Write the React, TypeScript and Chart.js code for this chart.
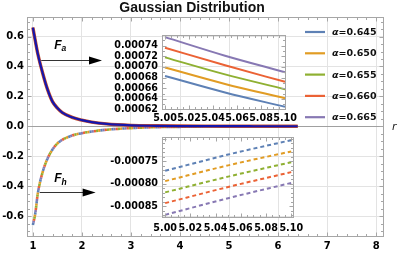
import React, { useEffect, useRef } from "react";
import { Chart, registerables } from "chart.js";
Chart.register(...registerables);

// ---------- data ----------
const TITLE = "Gaussian Distribution";
const AXIS_LABEL = "r";
const rValues = [1.0, 1.05, 1.1, 1.2, 1.3, 1.4, 1.5, 1.6, 1.8, 2.0, 2.2, 2.5, 3.0, 3.5, 4.0, 4.5, 5.0, 5.5, 6.0, 6.4];
const faValues = [0.66, 0.57, 0.485, 0.355, 0.245, 0.165, 0.122, 0.092, 0.06, 0.041, 0.028, 0.016, 0.0065, 0.0032, 0.0017, 0.001, 0.0007, 0.0005, 0.0003, 0.0002];
const fhValues = [-0.66, -0.58, -0.45, -0.305, -0.215, -0.155, -0.115, -0.09, -0.062, -0.046, -0.035, -0.023, -0.012, -0.006, -0.0035, -0.0018, -0.0008, -0.0005, -0.0003, -0.0002];
const alphaValues = ["0.645", "0.650", "0.655", "0.660", "0.665"];
const alphaColors = ["#5E81B5", "#E19C24", "#8FB032", "#EB6235", "#8778B3"];
const xTicks = [1, 2, 3, 4, 5, 6, 7, 8];
const yTicks = [-0.6, -0.4, -0.2, 0, 0.2, 0.4, 0.6];

const insetR = [5.0, 5.05, 5.1];
const insetXTicks = [5.0, 5.02, 5.04, 5.06, 5.08, 5.1];
const faInset645 = [0.000683, 0.000652, 0.000625];
const faInset650 = [0.000699, 0.000668, 0.000641];
const faInset655 = [0.000718, 0.000686, 0.000658];
const faInset660 = [0.000736, 0.000703, 0.000672];
const faInset665 = [0.000756, 0.000721, 0.00069];
const faInsetYTicks = [0.00062, 0.00064, 0.00066, 0.00068, 0.0007, 0.00072, 0.00074];
const fhInset645 = [-0.000771, -0.000735, -0.000703];
const fhInset650 = [-0.000794, -0.000759, -0.000728];
const fhInset655 = [-0.000819, -0.000784, -0.000752];
const fhInset660 = [-0.000843, -0.000807, -0.000774];
const fhInset665 = [-0.000869, -0.000832, -0.000798];
const fhInsetYTicks = [-0.00085, -0.0008, -0.00075];

const W = 399;
const H = 255;
const TICK_FONT = "DejaVu Sans";

const pts = (xs: number[], ys: number[]) => xs.map((x, i) => ({ x, y: ys[i] }));

// ---------- plugins ----------
const framePlugin = {
  id: "frame",
  beforeDatasetsDraw(chart: any, _a: any, o: any) {
    if (!o.zeroLine) return;
    const { ctx, chartArea: a, scales } = chart;
    const y0 = Math.round(scales.y.getPixelForValue(0)) + 0.5;
    ctx.save();
    ctx.strokeStyle = o.zeroColor;
    ctx.lineWidth = 1;
    ctx.beginPath();
    ctx.moveTo(a.left, y0);
    ctx.lineTo(a.right, y0);
    ctx.stroke();
    ctx.restore();
  },
  afterDatasetsDraw(chart: any, _a: any, o: any) {
    const { ctx, chartArea: a, scales } = chart;
    const x = scales.x;
    const y = scales.y;
    ctx.save();
    ctx.strokeStyle = o.color;
    ctx.lineWidth = 1;
    const L = Math.round(a.left) + 0.5;
    const R = Math.round(a.right) - 0.5;
    const T = Math.round(a.top) + 0.5;
    const B = Math.round(a.bottom) - 0.5;
    ctx.strokeRect(L, T, R - L, B - T);
    const marks = (sc: any, step: number) => {
      const out: number[] = [];
      const s = Math.ceil(sc.min / step - 1e-6);
      const e = Math.floor(sc.max / step + 1e-6);
      for (let k = s; k <= e; k++) out.push(k * step);
      return out;
    };
    const isMajor = (v: number, step: number) => Math.abs(v / step - Math.round(v / step)) < 1e-4;
    ctx.beginPath();
    for (const v of marks(x, o.xMinor)) {
      const px = Math.round(x.getPixelForValue(v)) + 0.5;
      const len = isMajor(v, o.xMajor) ? o.major : o.minor;
      ctx.moveTo(px, B);
      ctx.lineTo(px, B - len);
      ctx.moveTo(px, T);
      ctx.lineTo(px, T + len);
    }
    for (const v of marks(y, o.yMinor)) {
      const py = Math.round(y.getPixelForValue(v)) + 0.5;
      const len = isMajor(v, o.yMajor) ? o.major : o.minor;
      ctx.moveTo(L, py);
      ctx.lineTo(L + len, py);
      ctx.moveTo(R, py);
      ctx.lineTo(R - len, py);
    }
    ctx.stroke();
    ctx.restore();
  },
};

const annotPlugin = {
  id: "annot",
  afterDatasetsDraw(chart: any, _a: any, o: any) {
    const { ctx, chartArea: a, scales } = chart;
    const x = scales.x;
    const y = scales.y;
    ctx.save();
    // arrows
    for (const ar of o.arrows) {
      const x1 = x.getPixelForValue(ar.from[0]);
      const x2 = x.getPixelForValue(ar.to[0]);
      const yy = Math.round(y.getPixelForValue(ar.from[1])) + 0.5;
      ctx.strokeStyle = "#333";
      ctx.lineWidth = 1;
      ctx.beginPath();
      ctx.moveTo(x1, yy);
      ctx.lineTo(x2 - 8, yy);
      ctx.stroke();
      ctx.fillStyle = "#000";
      ctx.beginPath();
      ctx.moveTo(x2, yy);
      ctx.lineTo(x2 - 13, yy - 4);
      ctx.lineTo(x2 - 13, yy + 4);
      ctx.closePath();
      ctx.fill();
    }
    // F labels
    ctx.fillStyle = "#000";
    ctx.textBaseline = "alphabetic";
    ctx.textAlign = "left";
    for (const lb of o.labels) {
      const px = x.getPixelForValue(lb.at[0]);
      const py = y.getPixelForValue(lb.at[1]);
      ctx.font = 'italic bold 12px "Liberation Sans"';
      ctx.fillText(lb.main, px, py);
      const w = ctx.measureText(lb.main).width;
      ctx.font = 'italic bold 8.5px "Liberation Sans"';
      ctx.fillText(lb.sub, px + w, py + 2.5);
    }
    // legend
    o.legend.items.forEach((it: any, i: number) => {
      const cy = o.legend.top + i * o.legend.spacing;
      ctx.strokeStyle = it.color;
      ctx.lineWidth = 2.2;
      ctx.beginPath();
      ctx.moveTo(o.legend.left, cy);
      ctx.lineTo(o.legend.left + 20, cy);
      ctx.stroke();
      ctx.fillStyle = "#111";
      ctx.textBaseline = "middle";
      ctx.font = `italic bold 9.5px "${TICK_FONT}"`;
      const tx = o.legend.left + 27;
      ctx.fillText("α", tx, cy + 0.5);
      const aw = ctx.measureText("α").width;
      ctx.font = `bold 9.5px "${TICK_FONT}"`;
      ctx.fillText("=" + it.value, tx + aw, cy + 0.5);
    });
    // axis label
    ctx.font = 'italic 11px "DejaVu Sans"';
    ctx.textBaseline = "middle";
    ctx.fillStyle = "#222";
    ctx.fillText(o.axisLabel, a.right + 8, y.getPixelForValue(0) + 1);
    ctx.restore();
  },
};

// ---------- charts ----------
function MainChart() {
  const ref = useRef<HTMLCanvasElement | null>(null);
  useEffect(() => {
    if (!ref.current) return;
    const common = { showLine: true, pointRadius: 0, fill: false, cubicInterpolationMode: "monotone" as const };
    const dotted = alphaColors.map((c, i) => ({
      ...common,
      data: pts(rValues, fhValues),
      borderColor: c,
      borderWidth: 2.6,
      borderDash: [2.2, 8.8],
      borderDashOffset: i * 2.2,
      borderCapStyle: "butt",
      order: 2 + i,
    }));
    const chart = new Chart(ref.current, {
      type: "scatter",
      data: {
        datasets: [
          { ...common, data: pts(rValues, faValues), borderColor: "#1616ac", borderWidth: 2.2, order: 0 },
          { ...common, data: pts(rValues, faValues), borderColor: "#c8502c", borderWidth: 3.4, order: 1 },
          ...dotted,
        ] as any,
      },
      options: {
        animation: false,
        responsive: false,
        events: [],
        layout: { padding: { left: 0, right: 15, top: 0, bottom: 0 } },
        scales: {
          x: {
            type: "linear",
            min: 0.88,
            max: 8.16,
            afterBuildTicks: (s: any) => {
              s.ticks = xTicks.map((v) => ({ value: v }));
            },
            afterFit: (s: any) => {
              s.height = 18;
            },
            grid: { color: "#e3e3e3", drawTicks: false },
            border: { display: false },
            ticks: {
              padding: 3,
              color: "#000",
              font: { family: TICK_FONT, size: 10, weight: "bold" },
              callback: (v: any) => String(v),
              maxRotation: 0,
            },
          },
          y: {
            type: "linear",
            min: -0.74,
            max: 0.73,
            afterBuildTicks: (s: any) => {
              s.ticks = yTicks.map((v) => ({ value: v }));
            },
            afterFit: (s: any) => {
              s.width = 27;
            },
            grid: { color: "#e3e3e3", drawTicks: false },
            border: { display: false },
            ticks: {
              padding: 3,
              color: "#000",
              font: { family: TICK_FONT, size: 10, weight: "bold" },
              callback: (v: any) => Number(v).toFixed(1),
            },
          },
        },
        plugins: {
          legend: { display: false },
          tooltip: { enabled: false },
          title: {
            display: true,
            text: TITLE,
            color: "#111",
            font: { family: "Liberation Sans", size: 14, weight: "bold", lineHeight: 1.15 },
            padding: { top: 0, bottom: 1 },
          },
          frame: {
            color: "#a6a6a6",
            zeroLine: true,
            zeroColor: "#a0a0a0",
            xMajor: 1,
            xMinor: 0.2,
            yMajor: 0.2,
            yMinor: 0.05,
            major: 4,
            minor: 2.5,
          },
          annot: {
            arrows: [
              { from: [1.17, 0.44], to: [2.41, 0.44] },
              { from: [1.14, -0.438], to: [2.28, -0.438] },
            ],
            labels: [
              { at: [1.435, 0.52], main: "F", sub: "a" },
              { at: [1.435, -0.375], main: "F", sub: "h" },
            ],
            legend: {
              left: 305,
              top: 32,
              spacing: 21.3,
              items: alphaValues.map((v, i) => ({ value: v, color: alphaColors[i] })),
            },
            axisLabel: AXIS_LABEL,
          },
        } as any,
      },
      plugins: [framePlugin, annotPlugin],
    });
    return () => chart.destroy();
  }, []);
  return <canvas ref={ref} width={W} height={H} style={{ position: "absolute", left: 0, top: 0 }} />;
}

interface InsetProps {
  series: number[][];
  dashed: boolean;
  yTicks: number[];
  yMin: number;
  yMax: number;
  xMin: number;
  xMax: number;
  area: { left: number; right: number; top: number; bottom: number };
  labelPad: number;
}

function InsetChart(p: InsetProps) {
  const ref = useRef<HTMLCanvasElement | null>(null);
  useEffect(() => {
    if (!ref.current) return;
    const yW = 52;
    const xH = 16;
    const chart = new Chart(ref.current, {
      type: "scatter",
      data: {
        datasets: p.series.map((s, i) => ({
          data: pts(insetR, s),
          showLine: true,
          pointRadius: 0,
          fill: false,
          borderColor: alphaColors[i],
          borderWidth: 2,
          borderDash: p.dashed ? [4, 3] : [],
          cubicInterpolationMode: "monotone",
        })) as any,
      },
      options: {
        animation: false,
        responsive: false,
        events: [],
        layout: {
          padding: {
            left: p.area.left - yW,
            right: W - p.area.right,
            top: p.area.top,
            bottom: H - p.area.bottom - xH,
          },
        },
        scales: {
          x: {
            type: "linear",
            min: p.xMin,
            max: p.xMax,
            afterBuildTicks: (s: any) => {
              s.ticks = insetXTicks.map((v) => ({ value: v }));
            },
            afterFit: (s: any) => {
              s.height = xH;
            },
            grid: { display: false, drawTicks: false },
            border: { display: false },
            ticks: {
              padding: p.labelPad,
              color: "#000",
              maxRotation: 0,
              autoSkip: false,
              font: { family: TICK_FONT, size: 9.6, weight: "bold" },
              callback: (v: any) => Number(v).toFixed(2),
            },
          },
          y: {
            type: "linear",
            min: p.yMin,
            max: p.yMax,
            afterBuildTicks: (s: any) => {
              s.ticks = p.yTicks.map((v) => ({ value: v }));
            },
            afterFit: (s: any) => {
              s.width = yW;
            },
            grid: { display: false, drawTicks: false },
            border: { display: false },
            ticks: {
              padding: 4,
              color: "#000",
              autoSkip: false,
              font: { family: TICK_FONT, size: 9.6, weight: "bold" },
              callback: (v: any) => Number(v).toFixed(5),
            },
          },
        },
        plugins: {
          legend: { display: false },
          tooltip: { enabled: false },
          frame: {
            color: "#a6a6a6",
            zeroLine: false,
            xMajor: 0.02,
            xMinor: 0.005,
            yMajor: p.yTicks[1] - p.yTicks[0],
            yMinor: 0.00001,
            major: 4,
            minor: 2.5,
          },
        } as any,
      },
      plugins: [framePlugin],
    });
    return () => chart.destroy();
  }, []);
  return <canvas ref={ref} width={W} height={H} style={{ position: "absolute", left: 0, top: 0 }} />;
}

export default function App() {
  return (
    <div style={{ position: "absolute", left: 0, top: 0, width: W, height: H, background: "#fff" }}>
      <MainChart />
      <InsetChart
        series={[faInset645, faInset650, faInset655, faInset660, faInset665]}
        dashed={false}
        yTicks={faInsetYTicks}
        yMin={0.000619}
        yMax={0.00076}
        xMin={4.9975}
        xMax={5.1008}
        area={{ left: 162, right: 286, top: 35, bottom: 110 }}
        labelPad={3}
      />
      <InsetChart
        series={[fhInset645, fhInset650, fhInset655, fhInset660, fhInset665]}
        dashed={true}
        yTicks={fhInsetYTicks}
        yMin={-0.000876}
        yMax={-0.000696}
        xMin={4.9975}
        xMax={5.1022}
        area={{ left: 162, right: 294, top: 137, bottom: 218 }}
        labelPad={5}
      />
    </div>
  );
}
